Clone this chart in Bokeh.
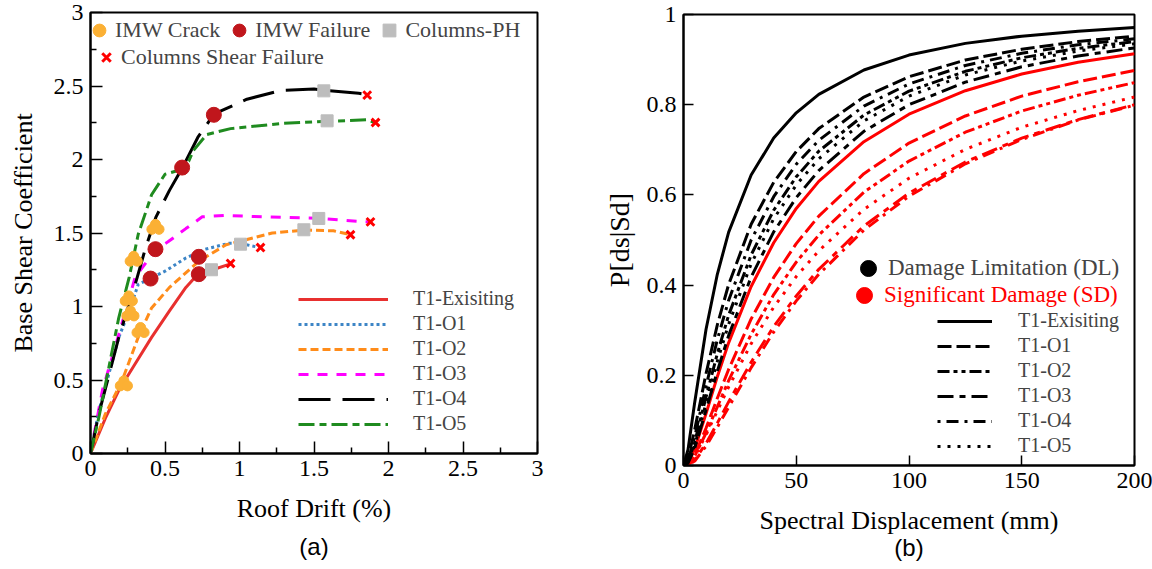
from bokeh.plotting import figure
from bokeh.models import Range1d, FixedTicker, NumeralTickFormatter, Legend, LegendItem, Title
from bokeh.layouts import row, column
from bokeh.transform import dodge
from bokeh.embed import file_html
from bokeh.resources import INLINE

SERIF = "Liberation Serif"
NAN = float("nan")

# ---------------- (a) pushover data ----------------
ex_x = [0, 0.10, 0.19, 0.30, 0.41, 0.53, 0.64, 0.72, 0.82, 0.94]
ex_y = [0, 0.24, 0.43, 0.61, 0.79, 0.97, 1.13, 1.22, 1.25, 1.29]
o1_x = [0, 0.056, 0.19, 0.26, 0.32, 0.40, 0.50, 0.64, 0.77, 0.93, 1.0, 1.14]
o1_y = [0, 0.29, 0.79, 0.97, 1.15, 1.19, 1.24, 1.33, 1.39, 1.43, 1.43, 1.40]
o2_x = [0, 0.10, 0.21, 0.32, 0.41, 0.53, 0.73, 0.91, 1.22, 1.43, 1.63, 1.74]
o2_y = [0, 0.27, 0.49, 0.79, 0.99, 1.13, 1.31, 1.42, 1.50, 1.52, 1.515, 1.49]
o3_x = [0, 0.08, 0.19, 0.30, 0.44, 0.52, 0.64, 0.75, 0.90, 1.16, 1.53, 1.79, 1.88]
o3_y = [0, 0.43, 0.81, 1.20, 1.39, 1.44, 1.53, 1.61, 1.62, 1.61, 1.60, 1.58, 1.575]
o4_x = [0, 0.056, 0.19, 0.30, 0.37, 0.44, 0.53, 0.62, 0.72, 0.83, 1.05, 1.28, 1.50, 1.57, 1.80, 1.86]
o4_y = [0, 0.27, 0.79, 1.15, 1.40, 1.61, 1.79, 1.95, 2.15, 2.31, 2.41, 2.47, 2.48, 2.47, 2.45, 2.44]
o5_x = [0, 0.056, 0.19, 0.26, 0.32, 0.41, 0.50, 0.57, 0.66, 0.69, 0.78, 0.94, 1.28, 1.59, 1.86, 1.91]
o5_y = [0, 0.245, 0.925, 1.20, 1.49, 1.76, 1.90, 1.92, 1.99, 2.06, 2.17, 2.21, 2.245, 2.26, 2.27, 2.25]

crack_x = [0.224, 0.336, 0.268, 0.257, 0.29, 0.436]
crack_y = [0.472, 0.835, 0.948, 1.050, 1.32, 1.537]
fail_x = [0.727, 0.727, 0.403, 0.436, 0.615, 0.828]
fail_y = [1.22, 1.338, 1.19, 1.39, 1.945, 2.304]
ph_x = [0.812, 1.007, 1.432, 1.532, 1.566, 1.588]
ph_y = [1.25, 1.424, 1.522, 1.599, 2.467, 2.263]
shear_x = [0.94, 1.141, 1.745, 1.879, 1.857, 1.913]
shear_y = [1.293, 1.401, 1.488, 1.576, 2.438, 2.252]

a_ticks = [0, 0.5, 1, 1.5, 2, 2.5, 3]
a_minor = [0.25, 0.75, 1.25, 1.75, 2.25, 2.75]

# ---------------- (b) fragility data ----------------
sd = [0, 2, 5, 10, 15, 20, 30, 40, 50, 60, 80, 100, 125, 150, 175, 200]
dl_exist = [0, .035, .141, .302, .424, .517, .644, .726, .782, .823, .877, .910, .936, .952, .963, .971]
dl_o1 = [0, .015, .080, .204, .312, .401, .535, .628, .696, .747, .817, .862, .899, .923, .940, .952]
dl_o2 = [0, .008, .052, .152, .248, .333, .467, .566, .640, .697, .777, .830, .874, .904, .925, .940]
dl_o3 = [0, .005, .039, .123, .209, .288, .418, .518, .594, .654, .741, .800, .850, .884, .908, .926]
dl_o4 = [0, .011, .064, .176, .279, .366, .500, .596, .668, .721, .797, .846, .887, .914, .933, .946]
dl_o5 = [0, .006, .045, .138, .231, .313, .447, .547, .622, .680, .764, .819, .866, .897, .919, .935]
sdm_exist = [0, .005, .037, .115, .197, .272, .397, .494, .570, .630, .718, .779, .831, .868, .894, .913]
sdm_o1 = [0, .003, .024, .083, .149, .213, .325, .417, .492, .553, .647, .715, .775, .819, .851, .876]
sdm_o2 = [0, .0025, .021, .072, .130, .188, .291, .379, .451, .511, .606, .675, .739, .786, .821, .849]
sdm_o3 = [0, .0014, .013, .049, .094, .141, .229, .308, .376, .435, .531, .604, .673, .726, .767, .800]
sdm_o4 = [0, .001, .010, .043, .085, .129, .217, .296, .365, .424, .522, .597, .669, .723, .766, .799]
sdm_o5 = [0, .003, .020, .068, .121, .174, .270, .351, .419, .476, .568, .637, .701, .750, .787, .817]

b_xticks = [0, 50, 100, 150, 200]
b_yticks = [0, 0.2, 0.4, 0.6, 0.8, 1]

names = ["T1-Exisiting", "T1-O1", "T1-O2", "T1-O3", "T1-O4", "T1-O5"]


def style_axis(ax, label_size="24px", axis_label_size="26px"):
    ax.axis_line_width = 2
    ax.axis_line_color = "black"
    ax.major_tick_in = 12
    ax.major_tick_out = 0
    ax.minor_tick_in = 6
    ax.minor_tick_out = 0
    ax.major_tick_line_width = 1.5
    ax.minor_tick_line_width = 1.5
    ax.major_label_text_font = SERIF
    ax.major_label_text_font_size = label_size
    ax.major_label_text_color = "black"
    ax.major_label_standoff = 7
    ax.axis_label_text_font = SERIF
    ax.axis_label_text_font_size = axis_label_size
    ax.axis_label_text_font_style = "normal"
    ax.axis_label_text_color = "black"


def base_fig(width, xr, yr, ml, mr, mt, mb):
    p = figure(width=width, height=569, x_range=Range1d(*xr), y_range=Range1d(*yr),
               output_backend="svg", toolbar_location=None,
               min_border_left=ml, min_border_right=mr, min_border_top=mt, min_border_bottom=mb)
    p.xgrid.visible = False
    p.ygrid.visible = False
    p.outline_line_color = "black"
    p.outline_line_width = 2
    p.outline_line_alpha = 1
    return p


def clear_legend(**kw):
    base = dict(padding=0, margin=0, border_line_alpha=0, background_fill_alpha=0,
                label_text_font=SERIF)
    base.update(kw)
    return Legend(**base)


# ---------------- figure (a) ----------------
p1 = base_fig(600, (0, 3), (0, 3), 90, 63, 12, 116)
for ax in (p1.xaxis[0], p1.yaxis[0]):
    style_axis(ax)
    ax.ticker = FixedTicker(ticks=a_ticks, minor_ticks=a_minor)
    ax.formatter = NumeralTickFormatter(format="0.[0]")
p1.xaxis.axis_label = "Roof Drift (%)"
p1.yaxis.axis_label = "Base Shear Coefficient"
p1.xaxis.axis_label_standoff = 15
p1.yaxis.axis_label_standoff = 13

a_series = [(ex_x, ex_y, "#e8302f", "solid"),
            (o1_x, o1_y, "#3d85c6", "3 3"),
            (o2_x, o2_y, "#ff8c1a", "8 4"),
            (o3_x, o3_y, "#ff00ff", "10 9"),
            (o4_x, o4_y, "black", "32 12"),
            (o5_x, o5_y, "#1f8b1f", "16 5 7 5")]
a_lines = []
for xs, ys, col, dash in a_series:
    a_lines.append(p1.line(xs, ys, line_color=col, line_width=3, line_dash=dash))

crack_src = dict(x=crack_x, y=crack_y)
ORANGE = "#fbb034"
c1 = p1.scatter(x=dodge("x", 0.0), y=dodge("y", 0.022), source=crack_src, marker="circle",
                size=10, fill_color=ORANGE, line_color=ORANGE)
c2 = p1.scatter(x=dodge("x", -0.024), y=dodge("y", -0.012), source=crack_src, marker="circle",
                size=10, fill_color=ORANGE, line_color=ORANGE)
c3 = p1.scatter(x=dodge("x", 0.024), y=dodge("y", -0.012), source=crack_src, marker="circle",
                size=10, fill_color=ORANGE, line_color=ORANGE)
rf = p1.scatter(fail_x, fail_y, marker="circle", size=15, fill_color="#c0161c", line_color="#c0161c")
rph = p1.scatter(ph_x, ph_y, marker="square", size=12, fill_color="#bdbdbd", line_color="#bdbdbd")
rsh = p1.scatter(shear_x, shear_y, marker="x", size=11, line_color="#ff0000", line_width=3)

legA = clear_legend(items=[LegendItem(label="IMW Crack", renderers=[c1]),
                           LegendItem(label="IMW Failure", renderers=[rf]),
                           LegendItem(label="Columns-PH", renderers=[rph])],
                    location=(-7, 407), orientation="horizontal", glyph_width=32, glyph_height=32,
                    label_standoff=0, spacing=3, label_text_font_size="22px")
legB = clear_legend(items=[LegendItem(label="Columns Shear Failure", renderers=[rsh])],
                    location=(1, 381), glyph_width=30, glyph_height=30,
                    label_standoff=0, label_text_font_size="22px")
legC = clear_legend(items=[LegendItem(label=n, renderers=[r]) for n, r in zip(names, a_lines)],
                    location=(208, 18), glyph_width=90, glyph_height=20, label_height=20,
                    label_standoff=25, spacing=2, label_text_font_size="20px")
for lg in (legA, legB, legC):
    p1.add_layout(lg)
p1.add_layout(Title(text="(a)", align="center", text_font="Liberation Sans",
                    text_font_size="24px", text_font_style="normal", text_color="black"), "below")

# ---------------- figure (b) ----------------
p2 = base_fig(552, (0, 200), (0, 1), 81, 18, 14, 104)
style_axis(p2.xaxis[0])
style_axis(p2.yaxis[0])
p2.xaxis.ticker = FixedTicker(ticks=b_xticks)
p2.yaxis.ticker = FixedTicker(ticks=b_yticks)
p2.xaxis.major_tick_in = 10
p2.yaxis.major_tick_in = 10
p2.yaxis.formatter = NumeralTickFormatter(format="0.[0]")
p2.xaxis.axis_label = "Spectral Displacement (mm)"
p2.yaxis.axis_label = "P[ds|Sd]"
p2.yaxis.axis_label_text_font_size = "28px"
p2.xaxis.axis_label_standoff = 15
p2.yaxis.axis_label_standoff = 9

dashes_b = ["solid", "14 5", "12 4 4 4 4 4", "16 6 6 6", "3 6 12 6", "3 7"]
dl_all = [dl_exist, dl_o1, dl_o2, dl_o3, dl_o4, dl_o5]
sdm_all = [sdm_exist, sdm_o1, sdm_o2, sdm_o3, sdm_o4, sdm_o5]
for vals, dash in zip(sdm_all, dashes_b):
    p2.line(sd, vals, line_color="#ff0000", line_width=3, line_dash=dash)
dl_lines = []
for vals, dash in zip(dl_all, dashes_b):
    dl_lines.append(p2.line(sd, vals, line_color="black", line_width=3, line_dash=dash))

rdl = p2.scatter(x=[NAN], y=[NAN], marker="circle", size=16, fill_color="black", line_color="black")
rsd = p2.scatter(x=[NAN], y=[NAN], marker="circle", size=16, fill_color="#ff0000", line_color="#ff0000")

legD = clear_legend(items=[LegendItem(label="Damage Limitation (DL)", renderers=[rdl])],
                    location=(165, 177), glyph_width=40, glyph_height=40, label_standoff=0,
                    label_text_font_size="23px")
legE = clear_legend(items=[LegendItem(label="Significant Damage (SD)", renderers=[rsd])],
                    location=(161, 150), glyph_width=40, glyph_height=40, label_standoff=0,
                    label_text_font_size="23px", label_text_color="#ff0000")
legF = clear_legend(items=[LegendItem(label=n, renderers=[r]) for n, r in zip(names, dl_lines)],
                    location=(254, 8), glyph_width=55, glyph_height=20, label_height=20,
                    label_standoff=26, spacing=2, label_text_font_size="20px")
for lg in (legD, legE, legF):
    p2.add_layout(lg)
p2.add_layout(Title(text="(b)", align="center", offset=10, standoff=-12, text_font="Liberation Sans",
                    text_font_size="24px", text_font_style="normal", text_color="black"), "below")

layout = row(column(p1), column(p2))
open("out.html", "w").write(file_html(layout, INLINE))
